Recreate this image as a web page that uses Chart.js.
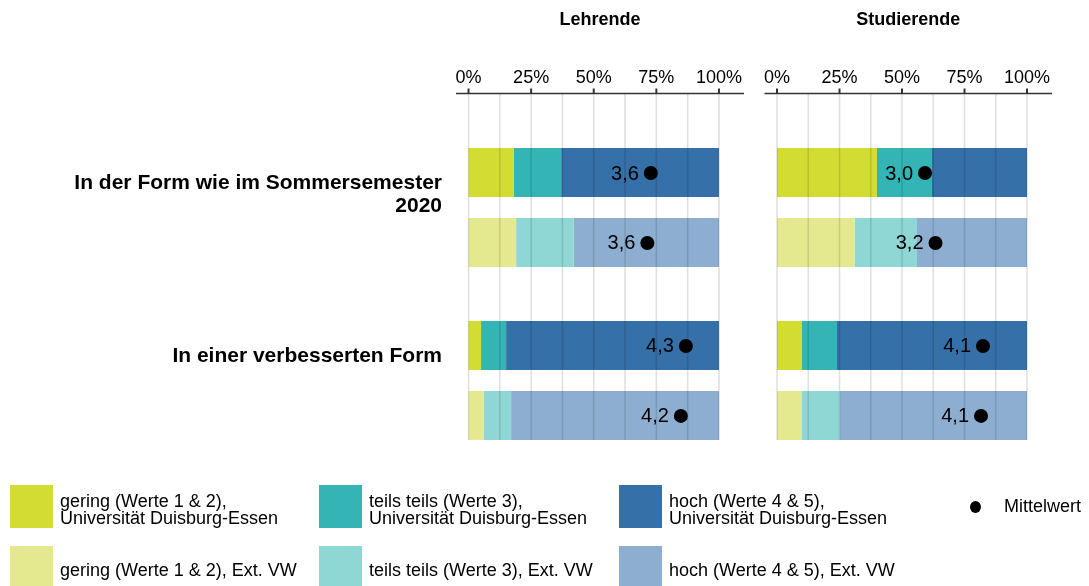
<!DOCTYPE html>
<html><head><meta charset="utf-8">
<script src="https://cdn.jsdelivr.net/npm/chart.js@4"></script>
<style>
html,body{margin:0;padding:0;background:#fff;}
body{width:1089px;height:586px;position:relative;overflow:hidden;font-family:"Liberation Sans",Arial,sans-serif;color:#000;}
#w1{position:absolute;left:0;top:0;width:744px;height:504px;}
#w2{position:absolute;left:764px;top:0;width:288px;height:504px;}
#legend{position:absolute;left:0;top:0;}
.leg{position:absolute;display:flex;align-items:center;height:43px;font-size:18px;line-height:17px;white-space:nowrap;}
.leg .tx{position:relative;top:3px;}
.sw{width:43px;height:43px;margin-right:7px;flex:none;}
.dot{width:11px;height:12px;border-radius:50%;background:#000;margin-right:23px;flex:none;}
</style></head><body>
<div id="w1"><canvas id="c1"></canvas></div>
<div id="w2"><canvas id="c2"></canvas></div>
<div id="legend"></div>
<script>
// ---- data ----
const categories = ["In der Form wie im Sommersemester 2020", "In einer verbesserten Form"];
const panelTitles = ["Lehrende", "Studierende"];
const seriesNames = ["gering (Werte 1 & 2)", "teils teils (Werte 3)", "hoch (Werte 4 & 5)"];
const groupNames = ["Universität Duisburg-Essen", "Ext. VW"];
const meanLabel = "Mittelwert";
const tickValues = [0, 12.5, 25, 37.5, 50, 62.5, 75, 87.5, 100];

// Lehrende (percent)
const lehrGeringUni = [18, 5];
const lehrTeilsUni  = [19, 10];
const lehrHochUni   = [63, 85];
const lehrGeringExt = [19, 6];
const lehrTeilsExt  = [23, 11];
const lehrHochExt   = [58, 83];
const lehrMeanUni   = [3.64, 4.34];
const lehrMeanExt   = [3.57, 4.24];

// Studierende (percent)
const studGeringUni = [40, 10];
const studTeilsUni  = [22, 14];
const studHochUni   = [38, 76];
const studGeringExt = [31, 10];
const studTeilsExt  = [25, 15];
const studHochExt   = [44, 75];
const studMeanUni   = [2.96, 4.12];
const studMeanExt   = [3.17, 4.08];

// ---- styles ----
const colorsUni = ["#d3dc32", "#34b4b4", "#3670a8"];
const colorsExt = ["#e4e98f", "#8ed7d4", "#8eaed1"];
const FONT = '"Liberation Sans", Arial, sans-serif';

function wrapLabel(text, maxChars) {
  const words = text.split(' ');
  const lines = [];
  let cur = '';
  words.forEach(w => {
    const t = cur ? cur + ' ' + w : w;
    if (t.length > maxChars && cur) { lines.push(cur); cur = w; } else { cur = t; }
  });
  if (cur) lines.push(cur);
  while (lines.length < 2) lines.push('');
  return lines;
}

const panelPlugin = {
  id: 'panelDeco',
  afterDatasetsDraw(chart, args, opts) {
    const {ctx, chartArea, scales} = chart;
    const xs = scales.x, xm = scales.xm;
    const axisY = chartArea.top - 27.5;
    let maxB = -Infinity;
    chart.data.datasets.forEach((ds, i) => {
      chart.getDatasetMeta(i).data.forEach(el => {
        const b = el.y + el.height / 2;
        if (b > maxB) maxB = b;
      });
    });
    ctx.save();
    // grid lines
    ctx.strokeStyle = 'rgba(0,0,0,0.12)';
    ctx.lineWidth = 1.6;
    tickValues.forEach(v => {
      const px = xs.getPixelForValue(v);
      ctx.beginPath(); ctx.moveTo(px, axisY); ctx.lineTo(px, maxB); ctx.stroke();
    });
    // axis line
    ctx.strokeStyle = '#333';
    ctx.lineWidth = 1.5;
    ctx.beginPath(); ctx.moveTo(chartArea.left, axisY); ctx.lineTo(chartArea.right, axisY); ctx.stroke();
    // tick marks
    ctx.lineWidth = 2;
    tickValues.filter(v => v % 25 === 0).forEach(v => {
      const px = xs.getPixelForValue(v);
      ctx.beginPath(); ctx.moveTo(px, axisY - 5); ctx.lineTo(px, axisY); ctx.stroke();
    });
    // means
    opts.means.forEach(m => {
      const idx = chart.data.datasets.findIndex(d => d.stack === m.stack);
      const els = chart.getDatasetMeta(idx).data;
      m.values.forEach((val, j) => {
        const cx = xm.getPixelForValue(val);
        const cy = els[j].y;
        ctx.fillStyle = '#000';
        ctx.beginPath(); ctx.arc(cx, cy + 0.5, 7, 0, Math.PI * 2); ctx.fill();
        ctx.font = '20px ' + FONT;
        ctx.textAlign = 'right';
        ctx.textBaseline = 'middle';
        ctx.fillText(val.toFixed(1).replace('.', ','), cx - 12, cy + 1.5);
      });
    });
    // panel title
    ctx.font = 'bold 18px ' + FONT;
    ctx.textAlign = 'center';
    ctx.textBaseline = 'middle';
    ctx.fillStyle = '#000';
    ctx.fillText(opts.title, (chartArea.left + chartArea.right) / 2, 20);
    ctx.restore();
  }
};

function makePanel(canvasId, title, uni, ext, meanUni, meanExt, showY) {
  const datasets = [];
  uni.forEach((d, i) => datasets.push({
    label: seriesNames[i] + ', ' + groupNames[0], data: d, stack: 'uni',
    backgroundColor: colorsUni[i], borderWidth: 0, xAxisID: 'x'
  }));
  ext.forEach((d, i) => datasets.push({
    label: seriesNames[i] + ', ' + groupNames[1], data: d, stack: 'ext',
    backgroundColor: colorsExt[i], borderWidth: 0, xAxisID: 'x'
  }));
  const yScale = {
    type: 'category', stacked: true, display: showY,
    grid: { display: false, drawTicks: false },
    border: { display: false },
    ticks: {
      padding: 14, color: '#000', labelOffset: -13,
      font: { family: FONT, size: 21, weight: 'bold', lineHeight: 1.1 },
      callback: function (v) { return wrapLabel(this.getLabelForValue(v), 34); }
    }
  };
  if (showY) yScale.afterFit = s => { s.width = 456; };
  return new Chart(document.getElementById(canvasId), {
    type: 'bar',
    data: { labels: categories, datasets },
    options: {
      indexAxis: 'y',
      responsive: true,
      maintainAspectRatio: false,
      animation: false,
      layout: { padding: { top: 35, bottom: 37.1, left: 0, right: 0 } },
      datasets: { bar: { categoryPercentage: 0.809, barPercentage: 0.7 } },
      scales: {
        x: {
          type: 'linear', position: 'top', stacked: true, min: -5, max: 110,
          afterBuildTicks: s => { s.ticks = tickValues.map(v => ({ value: v })); },
          grid: { display: false, drawTicks: false },
          border: { display: false },
          ticks: {
            autoSkip: false, maxRotation: 0, padding: 0, color: '#000',
            font: { family: FONT, size: 18, lineHeight: '86px' },
            callback: v => (v % 25 === 0 ? v + '%' : '')
          }
        },
        xm: { type: 'linear', display: false, min: -0.25, max: 5.5 },
        y: yScale
      },
      plugins: {
        legend: { display: false },
        tooltip: { enabled: false },
        panelDeco: { title, means: [{ stack: 'uni', values: meanUni }, { stack: 'ext', values: meanExt }] }
      }
    },
    plugins: [panelPlugin]
  });
}

makePanel('c1', panelTitles[0],
  [lehrGeringUni, lehrTeilsUni, lehrHochUni], [lehrGeringExt, lehrTeilsExt, lehrHochExt],
  lehrMeanUni, lehrMeanExt, true);
makePanel('c2', panelTitles[1],
  [studGeringUni, studTeilsUni, studHochUni], [studGeringExt, studTeilsExt, studHochExt],
  studMeanUni, studMeanExt, false);

// ---- legend ----
const legend = document.getElementById('legend');
const colLeft = [10, 319, 619];
const rowTop = [485, 546];
seriesNames.forEach((name, i) => {
  [0, 1].forEach(g => {
    const div = document.createElement('div');
    div.className = 'leg';
    div.style.left = colLeft[i] + 'px';
    div.style.top = rowTop[g] + 'px';
    const sw = document.createElement('div');
    sw.className = 'sw';
    sw.style.background = g === 0 ? colorsUni[i] : colorsExt[i];
    const tx = document.createElement('div');
    tx.className = 'tx';
    if (g === 0) { tx.innerHTML = name + ',<br>' + groupNames[0]; }
    else { tx.textContent = name + ', ' + groupNames[1]; }
    div.appendChild(sw); div.appendChild(tx);
    legend.appendChild(div);
  });
});
const md = document.createElement('div');
md.className = 'leg';
md.style.left = '970px'; md.style.top = '485px';
const dot = document.createElement('div'); dot.className = 'dot';
const mt = document.createElement('div'); mt.textContent = meanLabel;
md.appendChild(dot); md.appendChild(mt);
legend.appendChild(md);
</script>
</body></html>
